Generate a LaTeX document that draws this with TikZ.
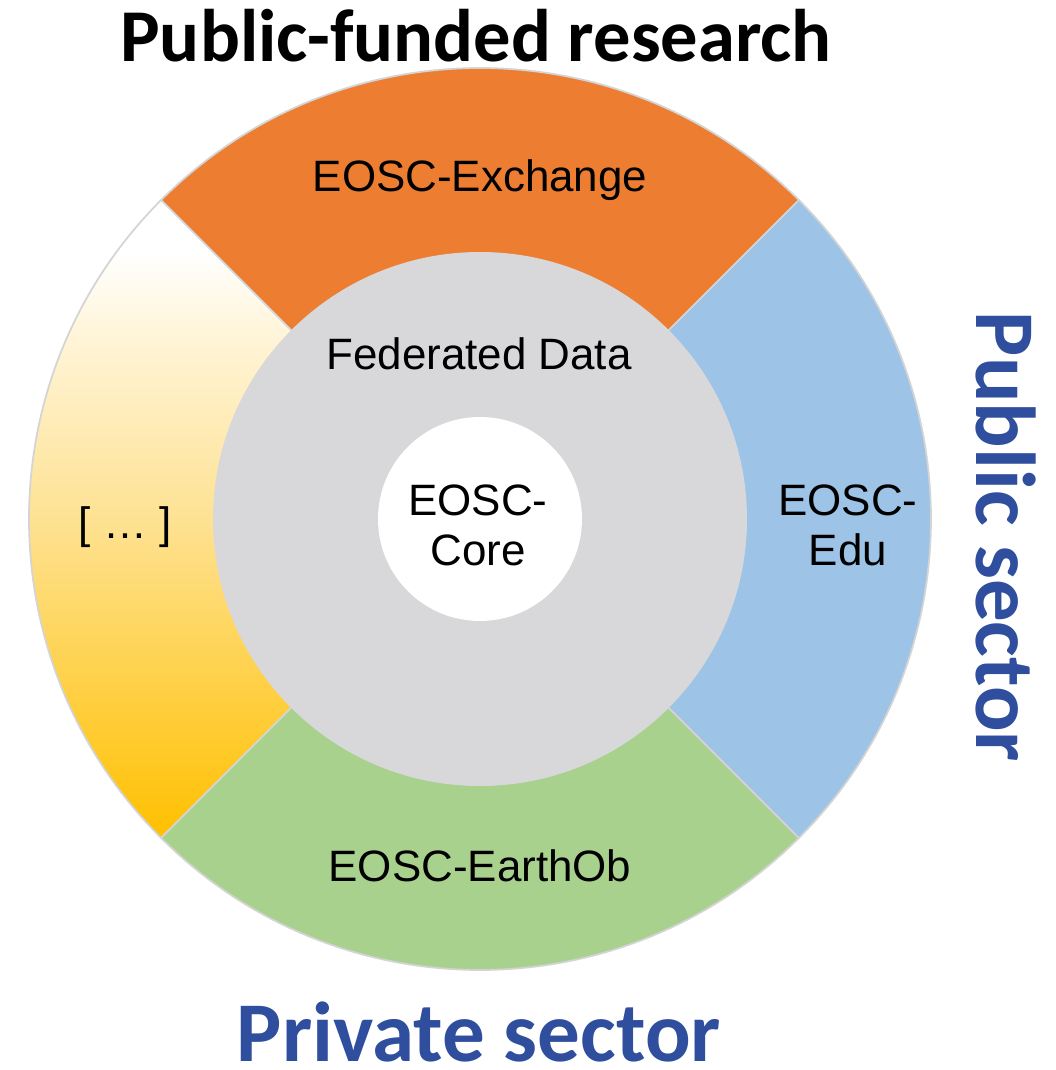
\documentclass[tikz,border=0pt]{standalone}
\usepackage{fontspec}
\setmainfont{Liberation Sans}
\newfontfamily\headfont{Carlito}
\usepackage{xcolor}
\definecolor{exchorange}{HTML}{ED7D31}
\definecolor{edublue}{HTML}{9DC3E6}
\definecolor{earthgreen}{HTML}{A9D18E}
\definecolor{fedgray}{HTML}{D8D8DA}
\definecolor{sepgray}{HTML}{D4D4D4}
\definecolor{sectorblue}{HTML}{2F4E9E}
\definecolor{dotsgold}{HTML}{FFC000}
\definecolor{dotspale}{HTML}{FEE293}
\definecolor{dotscream}{HTML}{FFF4D6}
\pgfdeclareverticalshading{dotsfade}{100bp}{color(0bp)=(dotsgold); color(25bp)=(dotsgold); color(50bp)=(dotspale); color(64bp)=(dotscream); color(71bp)=(white); color(100bp)=(white)}
\tikzstyle{segment} = [draw=sepgray, line width=0.5pt]
\tikzstyle{seglabel} = [font=\fontsize{12.5}{14.2}\selectfont, text=black, align=center, inner sep=0pt]
\tikzstyle{sector} = [font=\headfont\bfseries\fontsize{24.2}{29}\selectfont, text=sectorblue, inner sep=0pt]
\tikzstyle{heading} = [font=\headfont\bfseries\fontsize{21.2}{25}\selectfont, text=black, inner sep=0pt]

\begin{document}
\begin{tikzpicture}
	\useasboundingbox (0,0) rectangle (10.56,10.70);
	\coordinate (c) at (4.80,5.51);

		% Draw the ring
		\fill [exchorange, segment] (c) -- +(45:4.51) arc[start angle=45, end angle=135, radius=4.51] -- cycle;
		\shade [shading=dotsfade, segment] (c) -- +(135:4.51) arc[start angle=135, end angle=225, radius=4.51] -- cycle;
		\fill [earthgreen, segment] (c) -- +(225:4.51) arc[start angle=225, end angle=315, radius=4.51] -- cycle;
		\fill [edublue, segment] (c) -- +(-45:4.51) arc[start angle=-45, end angle=45, radius=4.51] -- cycle;
		\fill [fedgray] (c) circle[radius=2.67];
		\fill [white] (c) circle[radius=1.02];

		% Draw the labels
		\node (exchange) [seglabel, anchor=base] at (4.80,8.78) {EOSC-Exchange};
		\node (federated) [seglabel, anchor=base] at (4.79,7.00) {Federated Data};
		\node (core) [seglabel] at (4.78,5.45) {EOSC-\\Core};
		\node (edu) [seglabel] at (8.48,5.45) {EOSC-\\Edu};
		\node (dots) [seglabel] at (1.25,5.43) {[ \dots\ ]};
		\node (earthob) [seglabel, anchor=base] at (4.80,1.88) {EOSC-EarthOb};

		\node (funded) [heading, anchor=base] at (4.76,10.08) {Public-funded research};
		\node (public) [sector, anchor=base, rotate=-90] at (9.76,5.33) {Public sector};
		\node (private) [sector, anchor=base] at (4.79,0.08) {Private sector};

\end{tikzpicture}
\end{document}
